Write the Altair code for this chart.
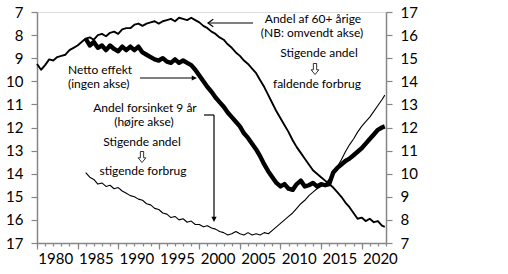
import altair as alt
import pandas as pd

# ---------------- data ----------------
# Andel af 60+ årige (left axis, reversed), half-yearly from 1977.75
share60_start = 1977.75
share60 = [9.25, 9.5, 9.3, 9.05, 9.1, 8.95, 8.9, 8.85, 8.65, 8.55,
           8.45, 8.3, 8.15, 8.1, 8.2, 8.0, 7.95, 8.05, 7.9, 7.85,
           7.95, 7.75, 7.7, 7.7, 7.55, 7.5, 7.6, 7.5, 7.45, 7.4,
           7.5, 7.4, 7.35, 7.3, 7.4, 7.25, 7.3, 7.35, 7.25, 7.35,
           7.45, 7.6, 7.7, 7.85, 7.95, 8.1, 8.2, 8.4, 8.55, 8.75,
           8.9, 9.1, 9.25, 9.45, 9.65, 9.95, 10.25, 10.6, 10.95, 11.3,
           11.6, 11.9, 12.2, 12.55, 12.85, 13.1, 13.35, 13.6, 13.85, 14.0,
           14.15, 14.3, 14.45, 14.6, 14.8, 15.0, 15.25, 15.45, 15.7, 15.95,
           15.9, 16.05, 15.95, 16.1, 16.05, 16.25, 16.3]

# Netto effekt (no axis, drawn on left scale), half-yearly from 1983.75
netto_start = 1983.75
netto = [8.15, 8.45, 8.3, 8.55, 8.45, 8.65, 8.45, 8.6, 8.7, 8.5,
         8.65, 8.5, 8.65, 8.5, 8.75, 8.85, 8.95, 9.05, 9.1, 9.0,
         9.15, 9.2, 9.05, 9.2, 9.1, 9.2, 9.3, 9.5, 9.75, 10.0,
         10.25, 10.45, 10.7, 10.9, 11.1, 11.35, 11.55, 11.75, 11.95, 12.25,
         12.45, 12.7, 12.95, 13.25, 13.6, 13.9, 14.15, 14.4, 14.55, 14.45,
         14.65, 14.7, 14.45, 14.3, 14.55, 14.5, 14.4, 14.55, 14.45, 14.5,
         14.45, 13.95, 13.75, 13.6, 13.45, 13.35, 13.2, 13.05, 12.9, 12.7,
         12.5, 12.3, 12.1, 12.0, 11.95]

# Andel forsinket 9 år (right axis), half-yearly from 1983.75
delayed_start = 1983.75
delayed = [10.05, 9.85, 9.75, 9.55, 9.6, 9.45, 9.5, 9.35, 9.4, 9.25,
           9.15, 9.05, 9.0, 8.9, 8.85, 8.7, 8.65, 8.5, 8.45, 8.3,
           8.25, 8.1, 8.15, 8.0, 8.05, 7.9, 7.95, 7.8, 7.8, 7.7,
           7.75, 7.65, 7.6, 7.5, 7.45, 7.35, 7.4, 7.5, 7.4, 7.35,
           7.45, 7.35, 7.4, 7.35, 7.45, 7.4, 7.55, 7.7, 7.85, 8.0,
           8.15, 8.3, 8.5, 8.7, 8.85, 9.05, 9.2, 9.35, 9.45, 9.55,
           9.75, 10.0, 10.3, 10.6, 10.95, 11.25, 11.5, 11.8, 12.05, 12.25,
           12.45, 12.7, 12.95, 13.2, 13.4]

year_labels = [1980, 1985, 1990, 1995, 2000, 2005, 2010, 2015, 2020]
axis_values = [7, 8, 9, 10, 11, 12, 13, 14, 15, 16, 17]


def years_for(start, n):
    ys = [start + 0.5 * i for i in range(n - 1)]
    ys.append(2020.6)
    return ys


df60 = pd.DataFrame({"year": years_for(share60_start, len(share60)), "v": share60})
dfn = pd.DataFrame({"year": years_for(netto_start, len(netto)), "v": netto})
dfd = pd.DataFrame({"year": years_for(delayed_start, len(delayed)), "v": delayed})

# ---------------- styling ----------------
FONT = "Lato"
GREY = "#868686"
X0 = 1977.75
X1 = 2020.75
xscale = alt.Scale(domain=[X0, X1], nice=False, zero=False)
minor_ticks = [X0 + k for k in range(int(X1 - X0) + 1)]
major_ticks = [X0 + 5 * k for k in range(9)]

# minor ticks every year (no labels)
xaxis_minor = alt.Axis(
    title=None, orient="bottom", values=minor_ticks, grid=False, labels=False,
    domainColor=GREY, domainWidth=1.5, tickColor=GREY, tickWidth=1.2, tickSize=3,
)
# major ticks every 5 years (no labels)
xaxis_major = alt.Axis(
    title=None, orient="bottom", values=major_ticks, grid=False, labels=False, domain=False,
    tickColor=GREY, tickWidth=1.2, tickSize=6,
)
# year labels (no ticks)
xaxis_labels = alt.Axis(
    title=None, orient="bottom", values=year_labels, grid=False, domain=False, ticks=False,
    format="d", labelOverlap=False, labelBound=False, labelFlush=False,
    labelFont=FONT, labelFontSize=15, labelColor="black", labelPadding=8,
)
left_axis = alt.Axis(
    title=None, values=axis_values, grid=False, orient="left",
    domainColor=GREY, domainWidth=1.5, tickColor=GREY, tickWidth=1.2, tickSize=6,
    labelFont=FONT, labelFontSize=15, labelColor="black", labelPadding=8,
)
right_axis = alt.Axis(
    title=None, values=axis_values, grid=False, orient="right",
    domainColor=GREY, domainWidth=1.5, tickColor=GREY, tickWidth=1.2, tickSize=6,
    labelFont=FONT, labelFontSize=15, labelColor="black", labelPadding=8,
)
left_scale = alt.Scale(domain=[7, 17], reverse=True, nice=False, zero=False)
right_scale = alt.Scale(domain=[7, 17], nice=False, zero=False)

line60 = alt.Chart(df60).mark_line(color="black", strokeWidth=1.9, strokeJoin="round").encode(
    x=alt.X("year:Q", scale=xscale, axis=xaxis_minor),
    y=alt.Y("v:Q", scale=left_scale, axis=left_axis),
)
line_netto = alt.Chart(dfn).mark_line(color="black", strokeWidth=4.4, strokeJoin="round").encode(
    x=alt.X("year:Q", scale=xscale, axis=xaxis_major),
    y=alt.Y("v:Q", scale=left_scale, axis=None),
)
line_delayed = alt.Chart(dfd).mark_line(color="black", strokeWidth=1.1, strokeJoin="round").encode(
    x=alt.X("year:Q", scale=xscale, axis=xaxis_labels),
    y=alt.Y("v:Q", scale=right_scale, axis=right_axis),
)

one = alt.Data(values=[{}])

# annotation texts: (text, x, y, align) in plot pixels
notes = [
    ("Andel af 60+ årige", 276, 7, "center"),
    ("(NB: omvendt akse)", 275, 21, "center"),
    ("Stigende andel", 282, 41, "center"),
    ("faldende forbrug", 280, 72, "center"),
    ("Netto effekt", 31, 58, "left"),
    ("(ingen akse)", 31, 72, "left"),
    ("Andel forsinket 9 år", 108, 96, "center"),
    ("(højre akse)", 107, 110, "center"),
    ("Stigende andel", 105, 130, "center"),
    ("stigende forbrug", 106, 159, "center"),
]
text_layers = [
    alt.Chart(one).mark_text(text=t, align=a, baseline="middle", font=FONT,
                             fontSize=12, color="black").encode(x=alt.value(px), y=alt.value(py))
    for t, px, py, a in notes
]

# hollow down arrows between "Stigende andel" and "... forbrug"
HOLLOW_DOWN = "M-0.3,-1L0.3,-1L0.3,0.15L0.7,0.15L0,1L-0.7,0.15L-0.3,0.15Z"
glyph_layers = [
    alt.Chart(one).mark_point(shape=HOLLOW_DOWN, size=121, filled=False, color="black",
                              strokeWidth=0.8, opacity=1).encode(x=alt.value(px), y=alt.value(py))
    for px, py in [(278, 57), (105, 145)]
]

# arrow lines: (x, x2, y, y2)
rules = [
    (216, 171, 11, 11),
    (103, 158, 66, 66),
    (167, 177, 103, 103),
    (177, 177, 103, 208),
]
rule_layers = [
    alt.Chart(one).mark_rule(color="black", strokeWidth=1.2).encode(
        x=alt.value(a), x2=alt.value(b), y=alt.value(c), y2=alt.value(d))
    for a, b, c, d in rules
]
heads = [
    (171, 11, 180, "M-1,-0.7L0,0L-1,0.7", False),
    (160, 66, 0, "M-1,-0.5L0,0L-1,0.5Z", True),
    (177, 210, 90, "M-1,-0.5L0,0L-1,0.5Z", True),
]
head_layers = [
    alt.Chart(one).mark_point(shape=path, size=110, angle=ang, filled=fill, color="black",
                              strokeWidth=1.2, opacity=1).encode(x=alt.value(px), y=alt.value(py))
    for px, py, ang, path, fill in heads
]

chart = alt.layer(
    line60, line_netto, line_delayed, *rule_layers, *head_layers, *text_layers, *glyph_layers
).resolve_scale(y="independent").resolve_axis(x="independent").properties(
    width=349, height=231,
    autosize=alt.AutoSizeParams(type="none"),
    padding={"left": 37, "top": 12, "right": 122, "bottom": 31},
).configure_view(stroke=None).configure(background="white")

chart.save("out.html", embed_options={"renderer": "svg", "actions": False})
